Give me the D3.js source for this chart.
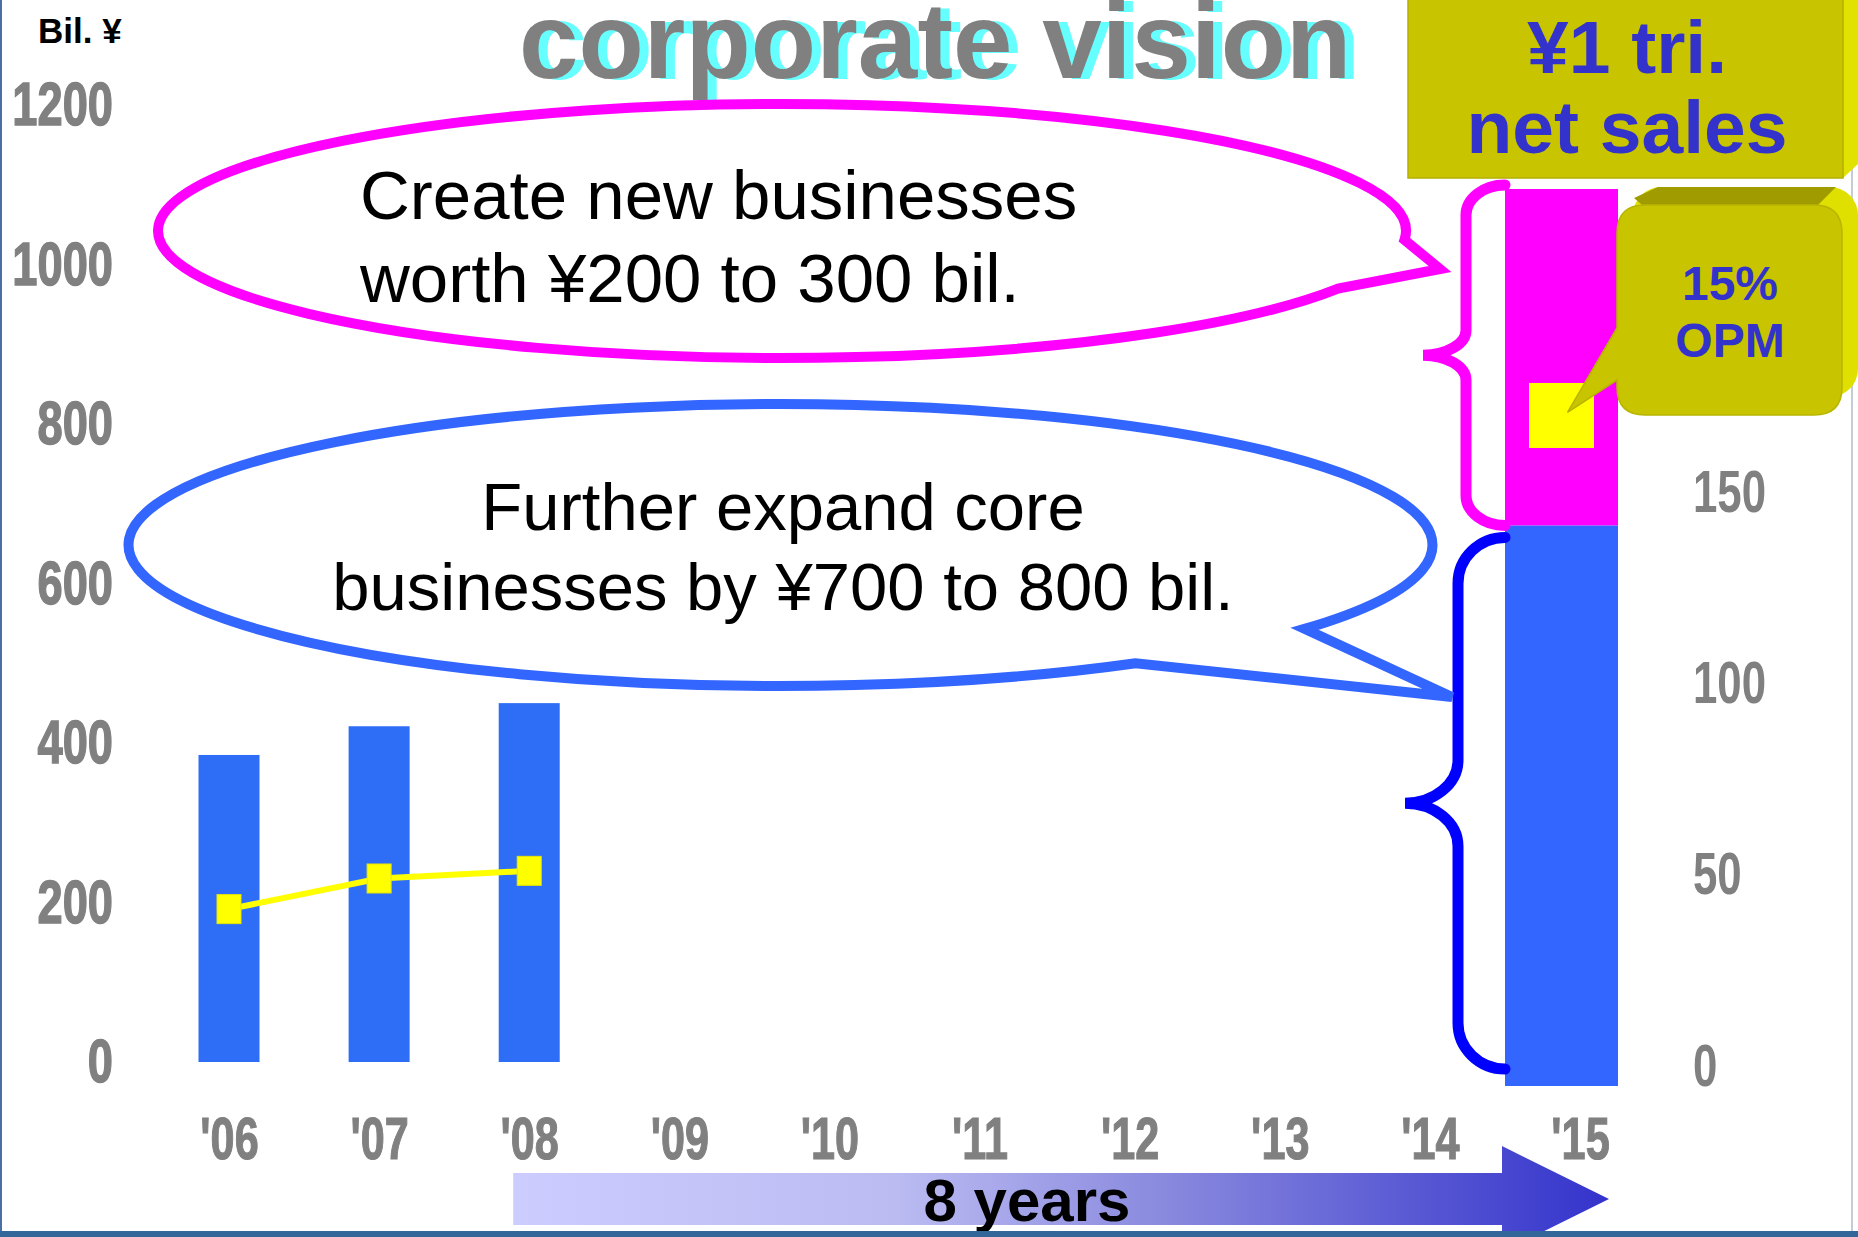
<!DOCTYPE html>
<html>
<head>
    <title>corporate vision</title>
    <script src="https://d3js.org/d3.v7.min.js"></script>
    <style type="text/css">
        body { margin: 0; background: #fff; }
        svg { display: block; }
        text { font-family: "Liberation Sans", Arial, sans-serif; }
        .axis path, .axis line { display: none; }
    </style>
</head>
<body>
<script>
    // chart values
    var years = ["'06", "'07", "'08", "'09", "'10", "'11", "'12", "'13", "'14", "'15"];
    var salesYears = ["'06", "'07", "'08"];
    var netSales = [385, 421, 450];          // Bil. yen, left axis
    var opIncome = [41, 49, 51];             // right axis
    var leftTicks = [0, 200, 400, 600, 800, 1000, 1200];
    var rightTicks = [0, 50, 100, 150];
    var targetYear = "'15";
    var targetParts = ["core", "new"];
    var targetValues = [625, 375];           // '15 target bar, as drawn
    var targetOpIncome = 170;

    var w = 1858, h = 1237;
    var grey = "#808080", ink = "#3333CC", olive = "#C8C400";

    var svg = d3.select("body").append("svg")
        .attr("width", w).attr("height", h);

    var defs = svg.append("defs");
    var grad = defs.append("linearGradient").attr("id", "arrowGrad")
        .attr("gradientUnits", "userSpaceOnUse")
        .attr("x1", 513).attr("x2", 1609).attr("y1", 0).attr("y2", 0);
    grad.append("stop").attr("offset", 0).attr("stop-color", "#CCCCFF");
    grad.append("stop").attr("offset", 0.35).attr("stop-color", "#BBBBF2");
    grad.append("stop").attr("offset", 0.6).attr("stop-color", "#8888DE");
    grad.append("stop").attr("offset", 1).attr("stop-color", "#3333CC");

    // cyan drop shadow for the title
    var shadow = defs.append("filter").attr("id", "cyanShadow")
        .attr("x", "-5%").attr("y", "-20%").attr("width", "110%").attr("height", "140%");
    shadow.append("feFlood").attr("flood-color", "#66FFFF").attr("result", "c");
    shadow.append("feComposite").attr("in", "c").attr("in2", "SourceAlpha").attr("operator", "in").attr("result", "s");
    shadow.append("feOffset").attr("in", "s").attr("dx", 9).attr("dy", 1).attr("result", "o");
    var merge = shadow.append("feMerge");
    merge.append("feMergeNode").attr("in", "o");
    merge.append("feMergeNode").attr("in", "SourceGraphic");

    // scales
    var x = d3.scalePoint().domain(years).range([229, 1580]);
    var y = d3.scaleLinear().domain([0, 1200]).range([1062, 105]);
    var yR = d3.scaleLinear().domain([0, 150]).range([1066, 492]);
    var yT = d3.scaleLinear().domain([0, 1000]).range([1086, 189]);

    // frame lines
    svg.append("rect").attr("x", 0).attr("y", 0).attr("width", 2).attr("height", h).attr("fill", "#4A6FA5");
    svg.append("rect").attr("x", 1851).attr("y", 0).attr("width", 2).attr("height", h).attr("fill", "#C4CCDA");

    // title
    svg.append("text").attr("x", 519).attr("y", 78).text("corporate vision")
        .attr("font-size", 107).attr("font-weight", "bold").attr("fill", grey)
        .attr("filter", "url(#cyanShadow)");

    svg.append("text").attr("x", 38).attr("y", 43).text("Bil. ¥")
        .attr("font-size", 35).attr("font-weight", "bold").attr("fill", "#000");

    // axes
    var leftAxis = d3.axisLeft(y).tickValues(leftTicks).tickFormat(d3.format("d"))
        .tickSize(0).tickPadding(0);
    svg.append("g").attr("class", "axis").attr("transform", "translate(113,0)")
        .call(leftAxis)
        .selectAll("text")
        .attr("transform", "scale(0.73,1)")
        .attr("font-size", 62).attr("font-weight", "bold")
        .attr("fill", grey).attr("stroke", grey).attr("stroke-width", 1.5)
        .attr("font-family", "Liberation Sans, Arial, sans-serif");

    var rightAxis = d3.axisRight(yR).tickValues(rightTicks).tickFormat(d3.format("d"))
        .tickSize(0).tickPadding(0);
    svg.append("g").attr("class", "axis").attr("transform", "translate(1693,0)")
        .call(rightAxis)
        .selectAll("text")
        .attr("transform", "scale(0.73,1)")
        .attr("font-size", 60).attr("font-weight", "bold")
        .attr("fill", grey)
        .attr("font-family", "Liberation Sans, Arial, sans-serif");

    var xAxis = d3.axisBottom(x).tickSize(0).tickPadding(0);
    svg.append("g").attr("class", "axis").attr("transform", "translate(0,1116)")
        .call(xAxis)
        .selectAll("text")
        .attr("transform", "scale(0.72,1)")
        .attr("font-size", 60).attr("font-weight", "bold")
        .attr("fill", grey).attr("stroke", grey).attr("stroke-width", 1.2)
        .attr("font-family", "Liberation Sans, Arial, sans-serif");

    // history bars
    var barW = 61;
    svg.selectAll("rect.sales")
        .data(netSales)
        .enter()
        .append("rect")
        .attr("class", "sales")
        .attr("x", function(d, i) { return x(salesYears[i]) - barW / 2; })
        .attr("y", function(d) { return y(d); })
        .attr("width", barW)
        .attr("height", function(d) { return y(0) - y(d); })
        .attr("fill", "#2E6EF7");

    // target bar ('15), stacked
    var tW = 113, tX = x(targetYear) - 18.5 - tW / 2;
    var stack = [];
    var acc = 0;
    targetValues.forEach(function(v, i) {
        stack.push({ key: targetParts[i], y0: acc, y1: acc + v });
        acc += v;
    });
    svg.selectAll("rect.target")
        .data(stack)
        .enter()
        .append("rect")
        .attr("class", "target")
        .attr("x", tX)
        .attr("y", function(d) { return yT(d.y1); })
        .attr("width", tW)
        .attr("height", function(d) { return yT(d.y0) - yT(d.y1); })
        .attr("fill", function(d) { return d.key == "core" ? "#3366FF" : "#FF00FF"; });

    // braces
    function brace(xEnd, xv, xTip, y1, y2, rE, rM) {
        var k = 0.55, ym = (y1 + y2) / 2;
        var dE = xEnd - xv, dM = xv - xTip;
        return "M" + xEnd + "," + y1 +
            "C" + (xEnd - k * dE) + "," + y1 + " " + xv + "," + (y1 + rE - k * rE) + " " + xv + "," + (y1 + rE) +
            "L" + xv + "," + (ym - rM) +
            "C" + xv + "," + (ym - rM + k * rM) + " " + (xTip + k * dM) + "," + ym + " " + xTip + "," + ym +
            "C" + (xTip + k * dM) + "," + ym + " " + xv + "," + (ym + rM - k * rM) + " " + xv + "," + (ym + rM) +
            "L" + xv + "," + (y2 - rE) +
            "C" + xv + "," + (y2 - rE + k * rE) + " " + (xEnd - k * dE) + "," + y2 + " " + xEnd + "," + y2;
    }
    svg.append("path")
        .attr("d", brace(tX, 1466, 1423, yT(1000) - 4, yT(targetValues[0]), 30, 25))
        .attr("fill", "none").attr("stroke", "#FF00FF").attr("stroke-width", 11)
        .attr("stroke-linecap", "round");
    svg.append("path")
        .attr("d", brace(tX, 1458, 1405, yT(targetValues[0]) + 12, yT(0) - 17, 46, 43))
        .attr("fill", "none").attr("stroke", "#0000FF").attr("stroke-width", 11)
        .attr("stroke-linecap", "round");

    // speech bubbles
    function bubble(cx, cy, rx, ry, aDeg, bDeg, tip) {
        var a = aDeg * Math.PI / 180, b = bDeg * Math.PI / 180;
        var ax = cx + rx * Math.cos(a), ay = cy + ry * Math.sin(a);
        var bx = cx + rx * Math.cos(b), by = cy + ry * Math.sin(b);
        return "M" + ax + "," + ay + "A" + rx + "," + ry + " 0 1 0 " + bx + "," + by +
            "L" + tip[0] + "," + tip[1] + "Z";
    }
    svg.append("path")
        .attr("d", bubble(782, 231, 624, 127, 4, 27, [1440, 269]))
        .attr("fill", "none").attr("stroke", "#FF00FF").attr("stroke-width", 10);
    svg.append("path")
        .attr("d", bubble(780.5, 545, 652, 141, 36.5, 57, [1452, 697]))
        .attr("fill", "none").attr("stroke", "#3366FF").attr("stroke-width", 10);

    var bubbleText1 = ["Create new businesses", "worth ¥200 to 300 bil."];
    var bubbleText2 = ["Further expand core", "businesses by ¥700 to 800 bil."];
    svg.selectAll("text.b1").data(bubbleText1).enter().append("text")
        .attr("class", "b1")
        .attr("x", 360).attr("y", function(d, i) { return 219 + i * 83; })
        .attr("font-size", 69).attr("fill", "#000").text(function(d) { return d; });
    svg.selectAll("text.b2").data(bubbleText2).enter().append("text")
        .attr("class", "b2")
        .attr("x", 783).attr("y", function(d, i) { return 530 + i * 80; })
        .attr("text-anchor", "middle")
        .attr("font-size", 67).attr("fill", "#000").text(function(d) { return d; });

    // operating income line
    var pts = opIncome.map(function(v, i) { return [x(salesYears[i]), yR(v)]; });
    svg.append("path")
        .attr("d", d3.line()(pts))
        .attr("fill", "none").attr("stroke", "#FFFF00").attr("stroke-width", 6);
    svg.selectAll("rect.opm")
        .data(pts)
        .enter()
        .append("rect")
        .attr("class", "opm")
        .attr("x", function(d) { return d[0] - 12; })
        .attr("y", function(d) { return d[1] - 14.5; })
        .attr("width", 24).attr("height", 29)
        .attr("fill", "#FFFF00").attr("stroke", "#E6E600").attr("stroke-width", 1);

    // target OPM marker
    svg.append("rect")
        .attr("x", tX + tW / 2 - 32.5).attr("y", yR(targetOpIncome) - 32.5)
        .attr("width", 65).attr("height", 65)
        .attr("fill", "#FFFF00");

    // "1 tri." box
    svg.append("polygon")
        .attr("points", "1843,0 1858,0 1858,164 1843,178")
        .attr("fill", "#E2E200");
    svg.append("rect")
        .attr("x", 1408).attr("y", -2).attr("width", 435).attr("height", 180)
        .attr("fill", olive).attr("stroke", "#B4B000").attr("stroke-width", 1.5);
    svg.append("text").attr("x", 1627).attr("y", 73).attr("text-anchor", "middle")
        .attr("font-size", 75).attr("font-weight", "bold").attr("fill", ink)
        .text("¥1 tri.");
    svg.append("text").attr("x", 1627).attr("y", 153).attr("text-anchor", "middle")
        .attr("font-size", 75).attr("font-weight", "bold").attr("fill", ink)
        .text("net sales");

    // OPM callout (3D rounded box)
    svg.append("rect")
        .attr("x", 1633).attr("y", 187).attr("width", 225).attr("height", 210)
        .attr("rx", 28).attr("fill", "#E0E000");
    svg.append("polygon")
        .attr("points", "1634,198 1658,187 1836,187 1818,205 1642,205")
        .attr("fill", "#A09C00");
    var L = 1617, R = 1842, T = 205, B = 415, r = 28;
    var tailTip = [tX + tW / 2 + 6, yR(targetOpIncome) - 3];
    svg.append("path")
        .attr("d", "M" + (L + r) + "," + T + "H" + (R - r) + "Q" + R + "," + T + " " + R + "," + (T + r) +
            "V" + (B - r) + "Q" + R + "," + B + " " + (R - r) + "," + B +
            "H" + (L + r) + "Q" + L + "," + B + " " + L + "," + (B - r) +
            "V380L" + tailTip[0] + "," + tailTip[1] + "L" + L + ",328" +
            "V" + (T + r) + "Q" + L + "," + T + " " + (L + r) + "," + T + "Z")
        .attr("fill", olive).attr("stroke", "#B8B400").attr("stroke-width", 1.5);
    svg.append("text").attr("x", 1730).attr("y", 300).attr("text-anchor", "middle")
        .attr("font-size", 48).attr("font-weight", "bold").attr("fill", ink).text("15%");
    svg.append("text").attr("x", 1730).attr("y", 357).attr("text-anchor", "middle")
        .attr("font-size", 48).attr("font-weight", "bold").attr("fill", ink).text("OPM");

    // 8 years arrow
    var ax0 = x("'08") - 16, ax1 = x(targetYear) - 78, axTip = x(targetYear) + 29;
    svg.append("path")
        .attr("d", "M" + ax0 + ",1173H" + ax1 + "V1146L" + axTip + ",1199L" + ax1 + ",1252V1225H" + ax0 + "Z")
        .attr("fill", "url(#arrowGrad)");
    svg.append("text").attr("x", 1027).attr("y", 1221).attr("text-anchor", "middle")
        .attr("font-size", 60).attr("font-weight", "bold").attr("fill", "#000")
        .text("8 years");

    // bottom rule
    svg.append("rect").attr("x", 0).attr("y", 1231).attr("width", w).attr("height", 6).attr("fill", "#336699");
</script>
</body>
</html>
